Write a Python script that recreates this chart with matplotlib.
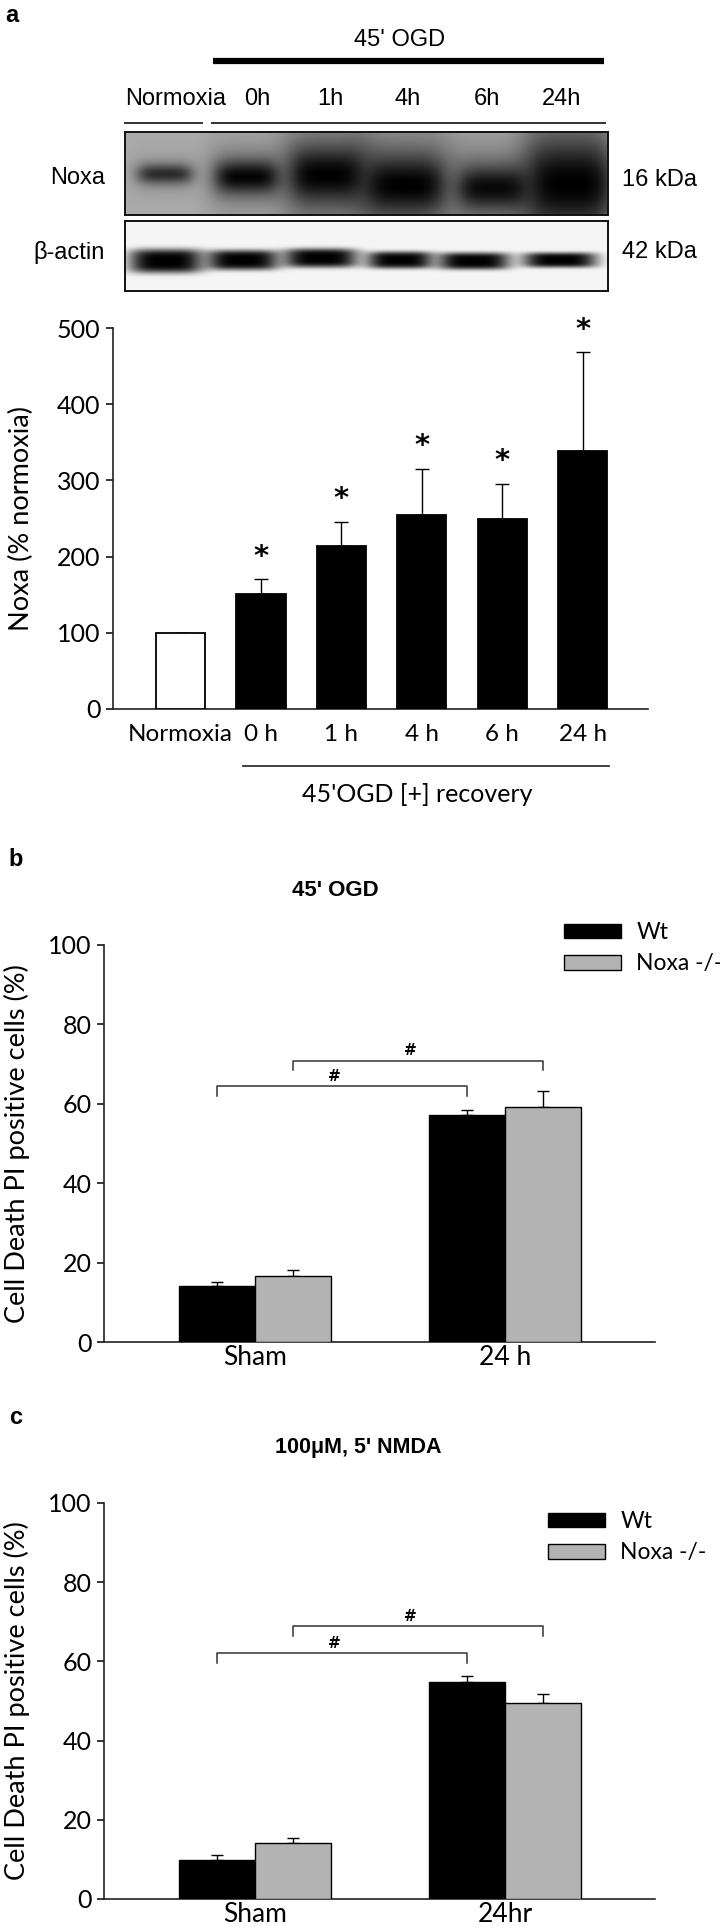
import numpy as np
import matplotlib
matplotlib.use('Agg')
import matplotlib.pyplot as plt

W, H = 720, 1932

# ---- panel a: western blot quantification ----
lanes = ['Normoxia', '0 h', '1 h', '4 h', '6 h', '24 h']
blot_lanes = ['Normoxia', '0h', '1h', '4h', '6h', '24h']
noxa_mean = [100, 151, 214, 255, 249, 338]
noxa_err = [0, 19, 32, 60, 46, 130]
noxa_sig = [False, True, True, True, True, True]

# band darkness (0 = none, 1 = black)
noxa_band = [0.72, 0.97, 1.0, 1.0, 0.92, 1.0]
noxa_smear = [0.12, 0.3, 0.5, 0.55, 0.4, 0.65]
actin_band = [1.0, 1.0, 1.0, 1.0, 1.0, 1.0]

# ---- panels b / c: PI positive cells ----
groups_b = ['Sham', '24 h']
groups_c = ['Sham', '24hr']
ogd_wt = [14.0, 57.1]
ogd_wt_err = [1.2, 1.4]
ogd_ko = [16.5, 59.3]
ogd_ko_err = [1.7, 3.9]
nmda_wt = [9.9, 54.9]
nmda_wt_err = [1.1, 1.5]
nmda_ko = [14.1, 49.5]
nmda_ko_err = [1.4, 2.2]

plt.rcParams['font.family'] = ['Lato', 'DejaVu Sans']
ARIAL = ['Liberation Sans', 'DejaVu Sans']
FS = 16.5
GREY = '#b3b3b3'

fig = plt.figure(figsize=(W / 100, H / 100), dpi=100)


def px_axes(x0, y0, x1, y1):
    return fig.add_axes([x0 / W, 1 - y1 / H, (x1 - x0) / W, (y1 - y0) / H])


# overlay in pixel coordinates for labels and lines
ov = fig.add_axes([0, 0, 1, 1])
ov.set_xlim(0, W)
ov.set_ylim(H, 0)
ov.axis('off')
ov.set_zorder(5)


def blot(box, cx, hw, cy, hh, dens, bg, smear=None, ypow=2):
    x0, y0, x1, y1 = box
    ax = px_axes(x0, y0, x1, y1)
    X, Y = np.meshgrid(np.arange(x0, x1) + 0.5, np.arange(y0, y1) + 0.5)
    dark = np.full(X.shape, bg)
    for i in range(len(cx)):
        if smear is not None:
            s = smear[i] * np.exp(-((X - cx[i]) / (hw[i] * 1.3)) ** 4 - ((Y - cy[i]) / (hh[i] * 2.2)) ** 2)
            dark = 1 - (1 - dark) * (1 - s)
        d = dens[i] * np.exp(-np.abs((X - cx[i]) / hw[i]) ** 4 - np.abs((Y - cy[i]) / hh[i]) ** ypow)
        dark = 1 - (1 - dark) * (1 - d)
    ax.imshow(1 - dark, cmap='gray', vmin=0, vmax=1, extent=(x0, x1, y1, y0),
              aspect='auto', interpolation='bilinear')
    ax.set_xticks([])
    ax.set_yticks([])
    for s in ax.spines.values():
        s.set_linewidth(1.4)
        s.set_color('#111111')
    return ax


# blot header
ov.text(12, 16, 'a', fontsize=17, fontweight='bold', family=ARIAL, ha='center', va='center')
ov.text(400, 40, "45' OGD", fontsize=17, family=ARIAL, ha='center', va='center')
ov.plot([213, 604], [61, 61], color='black', lw=4.5, solid_capstyle='butt')
lane_px = [176, 257, 330, 408, 487, 562]
for lab, x in zip(blot_lanes, lane_px):
    ov.text(x, 99, lab, fontsize=17, family=ARIAL, ha='center', va='center')
ov.plot([125, 202], [123, 123], color='#333333', lw=1.4)
ov.plot([212, 605], [123, 123], color='#333333', lw=1.4)

blot((125, 132, 608, 215), [165, 247, 327, 405, 493, 570], [28, 32, 36, 38, 35, 38],
     [174, 177, 175, 185, 188, 184], [10, 16, 24, 24, 20, 32], noxa_band, 0.33, noxa_smear)
blot((125, 221, 608, 291), [166, 243, 321, 400, 474, 560], [37, 36, 37, 33, 36, 37],
     [261, 260, 258, 260, 261, 260], [12, 10, 9.5, 8.5, 8.5, 7.5], actin_band, 0.04, ypow=4)

ov.text(105, 178, 'Noxa', fontsize=17, family=ARIAL, ha='right', va='center')
ov.text(105, 252, 'β-actin', fontsize=17, family=ARIAL, ha='right', va='center')
ov.text(622, 180, '16 kDa', fontsize=17, family=ARIAL, ha='left', va='center')
ov.text(622, 252, '42 kDa', fontsize=17, family=ARIAL, ha='left', va='center')


def style_axes(ax, xfs):
    for side in ['top', 'right']:
        ax.spines[side].set_visible(False)
    for side in ['left', 'bottom']:
        ax.spines[side].set_linewidth(1.2)
        ax.spines[side].set_color('#222222')
    ax.tick_params(axis='y', direction='out', length=5, width=1.1, labelsize=18, pad=4)
    ax.tick_params(axis='x', length=0, labelsize=xfs)


# panel a bars
ax_a = px_axes(113, 328, 648, 709)
xa = np.arange(len(lanes))
cols = ['white'] + ['black'] * (len(lanes) - 1)
ax_a.bar(xa, noxa_mean, width=0.61, color=cols, edgecolor='black', linewidth=1.3, zorder=3)
ax_a.errorbar(xa, noxa_mean, yerr=[np.zeros(len(xa)), noxa_err], fmt='none', ecolor='black',
              elinewidth=1, capsize=5, capthick=1, zorder=2)
for i in range(len(xa)):
    if noxa_sig[i]:
        ax_a.text(xa[i], noxa_mean[i] + noxa_err[i] + 30, '*', fontsize=21, fontweight='bold',
                  ha='center', va='center', family='DejaVu Sans')
ax_a.set_xlim(-0.84, 5.81)
ax_a.set_ylim(0, 500)
ax_a.set_yticks(range(0, 501, 100))
ax_a.set_xticks(xa)
ax_a.set_xticklabels(lanes)
style_axes(ax_a, 17.5)
ax_a.tick_params(axis='x', pad=11)
ax_a.set_ylabel('Noxa (% normoxia)', fontsize=19.5, va='center')
ax_a.yaxis.set_label_coords(-0.172, 0.5)

ov.plot([243, 609], [766, 766], color='#333333', lw=1.3)
ov.text(417, 795, "45'OGD [+] recovery", fontsize=18, ha='center', va='center')


def pi_panel(top, groups, wt, wt_err, ko, ko_err, brackets, title, title_fs, letter, leg):
    y0, y1 = top
    ax = px_axes(104, y0, 655, y1)
    xg = np.arange(len(groups))
    w = 0.304
    ax.bar(xg - w / 2, wt, width=w, color='black', edgecolor='black', linewidth=1, zorder=3, label='Wt')
    ax.bar(xg + w / 2, ko, width=w, color=GREY, edgecolor='black', linewidth=1, zorder=3, label='Noxa -/-')
    ax.errorbar(xg - w / 2, wt, yerr=[np.zeros(len(xg)), wt_err], fmt='none', ecolor='black',
                elinewidth=1, capsize=4, capthick=1, zorder=2)
    ax.errorbar(xg + w / 2, ko, yerr=[np.zeros(len(xg)), ko_err], fmt='none', ecolor='black',
                elinewidth=1, capsize=4, capthick=1, zorder=2)
    # significance brackets: Sham vs 24 h for each genotype
    for k, off in enumerate([-w / 2, w / 2]):
        lvl = brackets[k]
        ax.plot([off, off, 1 + off, 1 + off], [lvl - 2.5, lvl, lvl, lvl - 2.5], color='#333333', lw=1.1)
        ax.text(0.5 + off - 0.03, lvl + 2.4, '#', fontsize=11, fontweight='bold',
                ha='center', va='center', family='DejaVu Sans')
    ax.set_xlim(-0.604, 1.6)
    ax.set_ylim(0, 100)
    ax.set_yticks(range(0, 101, 20))
    ax.set_xticks(xg)
    ax.set_xticklabels(groups)
    style_axes(ax, 19)
    ax.tick_params(axis='x', pad=2)
    ax.set_ylabel('Cell Death PI positive cells (%)', fontsize=19.5, va='center')
    ax.yaxis.set_label_coords(-0.158, 0.5)
    ax.legend(loc='upper left', bbox_to_anchor=(leg[0] / W, 1 - leg[1] / H),
              bbox_transform=fig.transFigure, frameon=False, borderpad=0, borderaxespad=0,
              handlelength=2.5, handleheight=0.6, handletextpad=0.65, labelspacing=0.45,
              fontsize=FS)
    ov.text(16, letter[1], letter[0], fontsize=17, fontweight='bold',
            family=ARIAL, ha='center', va='center')
    ov.text(title[1], title[2], title[0], fontsize=title_fs, fontweight='bold', family=ARIAL,
            ha='center', va='center')
    return ax


pi_panel((945, 1342), groups_b, ogd_wt, ogd_wt_err, ogd_ko, ogd_ko_err, [64.4, 70.9],
         ("45' OGD", 335, 891), 16, ('b', 860), (564, 922))
pi_panel((1503, 1899), groups_c, nmda_wt, nmda_wt_err, nmda_ko, nmda_ko_err, [62.2, 68.9],
         ("100μM, 5' NMDA", 358, 1448), 15.5, ('c', 1418), (548, 1511))

fig.savefig('out.png', dpi=100)
